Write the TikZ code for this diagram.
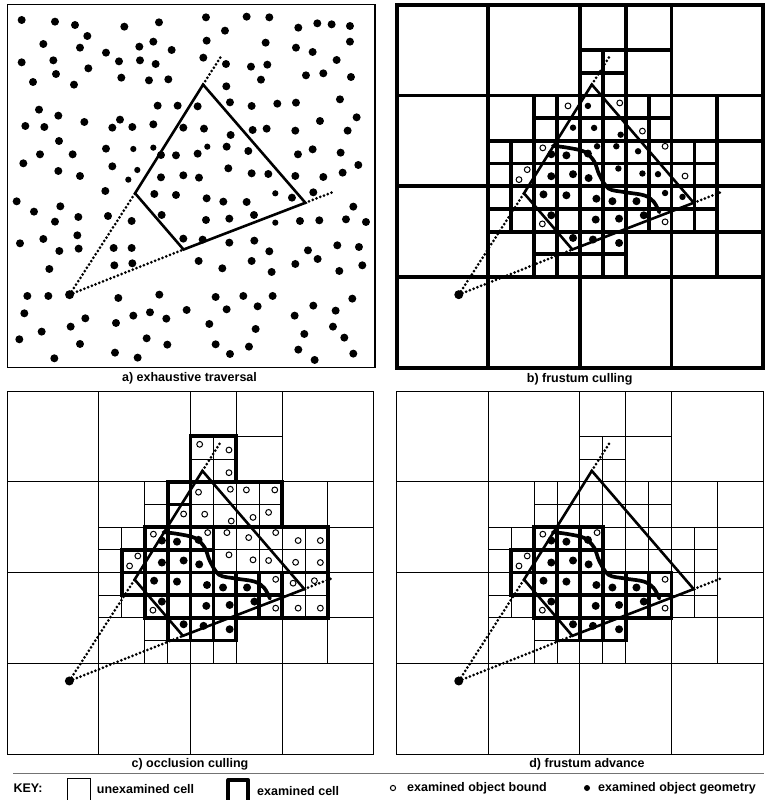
\documentclass[tikz,border=0pt]{standalone}
\usepackage{fontspec}
\setmainfont{Liberation Sans}
\usetikzlibrary{calc}

% quadtree leaves x/y/size (cell units, y down); the 8..11 x 4..9 block is added in \drawleaves
\newcommand{\quadleaves}{0/0/4,4/0/4,12/0/4,0/4/4,0/8/4,0/12/4,4/12/4,8/12/4,12/12/4,%
  8/0/2,10/0/2,10/2/2,4/4/2,12/4/2,14/4/2,14/6/2,4/10/2,10/10/2,14/8/2,12/10/2,14/10/2,%
  8/2/1,9/2/1,8/3/1,9/3/1,6/4/1,7/4/1,6/5/1,7/5/1,4/6/1,5/6/1,4/7/1,5/7/1,%
  6/6/1,7/6/1,6/7/1,7/7/1,12/6/1,13/6/1,12/7/1,13/7/1,4/8/1,5/8/1,4/9/1,5/9/1,%
  6/8/1,7/8/1,6/9/1,7/9/1,12/8/1,13/8/1,12/9/1,13/9/1,6/10/1,7/10/1,6/11/1,7/11/1,%
  8/10/1,9/10/1,8/11/1,9/11/1}
\newcommand{\drawleaves}[1]{%
  \foreach \cx/\cy/\cs in \quadleaves {\draw[#1] (\cx,\cy) rectangle ++(\cs,\cs);}
  \foreach \cx in {8,...,11} {\foreach \cy in {4,...,9} {\draw[#1] (\cx,\cy) rectangle ++(1,1);}}}

% cells whose geometry was looked at
\newcommand{\geomcells}{6/6,7/6,8/6,5/7,6/7,7/7,8/7,5/8,6/8,7/8,8/8,9/8,10/8,11/8,%
  6/9,7/9,8/9,9/9,10/9,11/9,7/10,8/10,9/10}
\newcommand{\geomdots}{6.75/6.59,7.41/6.64,8.35/6.56,6.75/7.56,7.70/7.47,8.38/7.64,%
  6.41/8.36,7.41/8.40,8.72/8.55,9.42/8.66,10.47/8.66,6.75/9.28,8.69/9.47,9.71/9.43,%
  10.79/9.28,7.70/10.28,8.57/10.35,9.71/10.50}

\newcommand{\drawfrustum}{%
  \coordinate (eye) at (2.71,12.78);
  \coordinate (nl) at (5.56,8.31);
  \coordinate (tp) at (8.52,3.52);
  \coordinate (rt) at (12.97,8.73);
  \coordinate (bt) at (7.67,10.79);
  \draw[rayline] (eye) -- (nl) (tp) -- ($(eye)!1.13!(tp)$)
                 (eye) -- (bt) (rt) -- ($(eye)!1.125!(rt)$);
  \draw[frustline] (nl) -- (tp) -- (rt) -- (bt) -- cycle;
  \fill (eye) circle (4.5pt);}
\newcommand{\drawsurface}{%
  \draw[surfline] plot[smooth,tension=0.55] coordinates {(6.82,6.22) (7.45,6.3)
    (8.2,6.48) (8.62,6.9) (8.85,7.5) (9.25,8.1) (9.95,8.26) (10.8,8.4) (11.22,8.68)
    (11.47,9.15)};}

\begin{document}
\begin{tikzpicture}[x=1pt,y=-1pt,font=\fontsize{12.5}{14}\selectfont\bfseries,
    panel/.style={x=22.9pt,y=-22.69pt},
    cellline/.style={draw=black,line width=1pt},
    examline/.style={draw=black,line width=3.8pt},
    frustline/.style={line width=2.6pt,line join=miter},
    rayline/.style={line width=3pt,line cap=round,dash pattern=on 0pt off 4pt},
    surfline/.style={line width=3.7pt,line cap=round},
    bound/.style={draw=black,line width=1pt,fill=white},
    caption/.style={inner sep=0pt}]
  \useasboundingbox (0,0) rectangle (764,800);

  % a) exhaustive traversal
  \begin{scope}[shift={(7.3,4.7)},panel,x=22.98pt]
    \draw[line width=1.4pt] (0,0) rectangle (16,16);
    \drawfrustum
  \end{scope}
  \begin{scope}[x=0.3333pt,y=-0.3333pt]
    \foreach \px/\py in {65/60,165/65,225/75,373/80,477/67,618/52,740/50,808/52,675/92,
        895/83,952/70,995/73,1050/78,262/108,130/132,240/143,418/140,460/125,515/150,
        620/122,797/128,888/143,938/156,1050/125,65/187,160/181,318/158,357/184,420/181,
        467/192,610/173,678/192,753/200,802/194,1010/180,265/205,168/222,99/246,222/254,
        364/233,447/241,505/238,679/259,783/239,918/226,970/220,1053/231,117/329,473/317,
        533/317,593/319,690/307,755/318,832/311,888/308,1020/298,175/347,76/378,133/381,
        253/366,360/359,337/383,397/381,460/373,550/383,612/386,692/405,758/390,800/386,
        886/392,960/363,1070/352,1043/392,177/423,120/463,218/463,318/446,483/465,528/466,
        593/461,680/440,745/453,894/463,938/448,1022/458,70/490,175/513,240/528,337/499,
        483/532,550/526,597/533,685/505,755/520,805/522,886/528,970/531,1028/518,1075/495,
        316/573,463/582,528/585,620/595,670/605,740/606,876/593,940/577,50/604,1060/620,
        102/635,181/619,165/665,235/651,324/648,395/663,485/645,618/660,688/656,762/645,
        900/663,958/661,1038/658,1098/666,60/730,130/717,232/706,178/753,236/746,341/744,
        395/744,550/716,608/719,688/728,763/722,808/754,924/751,953/777,1012/736,1077/741,
        148/807,343/796,397/790,596/783,667/805,755/783,815/816,886/792,1018/813,1087/796,
        82/888,145/888,355/894,478/884,647/891,730/888,818/888,1057/896,73/940,256/955,
        212/980,348/969,400/947,450/937,499/956,560/930,680/928,773/919,628/972,884/947,
        940/917,1007/932,125/995,58/1018,240/1032,440/1015,502/1034,767/987,913/1002,
        999/980,1033/1013,647/1033,163/1075,345/1058,413/1073,690/1062,747/1040,895/1049,
        944/1080,1060/1061}
      \fill (\px,\py) circle (4pt);
    \foreach \px/\py in {622/440,400/447,412/510,385/539,826/580,826/668,460/443}
      \fill (\px,\py) circle (3.1pt);
  \end{scope}
  \node[caption] (lblA) at (189.5,378.5) {a) exhaustive traversal};

  % b) frustum culling
  \begin{scope}[shift={(396.7,4.7)},panel]
    \drawleaves{examline}
    \drawfrustum
    \drawsurface
    \foreach \ox/\oy in {7.48/4.46,9.74/4.33,10.73/5.57,6.38/6.31,11.72/6.24,5.70/7.27,
        5.34/7.71,12.59/7.55,6.36/9.66,11.72/9.57}
      \draw[bound] (\ox,\oy) circle (2.9pt);
    \foreach \ox/\oy in {8.35/4.46,7.70/5.42,8.62/5.43,9.78/5.73,8.75/6.24,9.59/6.24,
        10.54/6.46,9.68/7.22,10.73/7.44,11.41/7.47,11.72/8.30,12.48/8.47}
      \fill (\ox,\oy) circle (3.2pt);
    \foreach \ox/\oy in \geomdots \fill (\ox,\oy) circle (4pt);
  \end{scope}
  \node[caption] (lblB) at (579.7,379) {b) frustum culling};

  % c) occlusion culling
  \begin{scope}[shift={(7.3,391)},panel]
    \drawleaves{cellline}
    \foreach \cx/\cy in \geomcells \draw[examline] (\cx,\cy) rectangle ++(1,1);
    \foreach \cx/\cy in {7/4,7/5} \draw[examline] (\cx,\cy) rectangle ++(1,1);
    \foreach \bx/\by/\ex/\ey in {8/2/10/4,8/4/12/6,9/6/14/8,12/8/14/10}
      \draw[examline] (\bx,\by) rectangle (\ex,\ey);
    \drawfrustum
    \drawsurface
    \foreach \ox/\oy in {8.40/2.35,9.68/2.60,9.68/3.60,8.35/4.46,9.74/4.33,10.44/4.36,
        11.68/4.36,7.70/5.42,8.62/5.43,9.78/5.73,10.73/5.57,11.41/5.35,6.38/6.31,8.75/6.24,
        9.59/6.24,10.54/6.46,11.72/6.24,12.70/6.59,13.67/6.59,5.70/7.27,5.34/7.71,9.68/7.22,
        10.73/7.44,11.41/7.47,12.59/7.55,13.67/7.56,11.72/8.30,12.48/8.47,13.41/8.36,
        6.36/9.66,11.72/9.57,12.70/9.57,13.67/9.57}
      \draw[bound] (\ox,\oy) circle (2.9pt);
    \foreach \ox/\oy in \geomdots \fill (\ox,\oy) circle (4pt);
  \end{scope}
  \node[caption] (lblC) at (190,764) {c) occlusion culling};

  % d) frustum advance
  \begin{scope}[shift={(396.7,391)},panel]
    \drawleaves{cellline}
    \foreach \cx/\cy in \geomcells \draw[examline] (\cx,\cy) rectangle ++(1,1);
    \drawfrustum
    \drawsurface
    \foreach \ox/\oy in {6.38/6.31,8.75/6.24,5.70/7.27,5.34/7.71,11.72/8.30,6.36/9.66,
        11.72/9.57}
      \draw[bound] (\ox,\oy) circle (2.9pt);
    \foreach \ox/\oy in \geomdots \fill (\ox,\oy) circle (4pt);
  \end{scope}
  \node[caption] (lblD) at (587,764) {d) frustum advance};

  % key
  \draw[line width=1.6pt,black!55] (13,773.3) -- (764,773.3);
  \node[caption,anchor=west] (keyTitle) at (13.3,788) {KEY:};
  \draw[line width=1pt] (67.7,801) -- (67.7,778) -- (90,778) -- (90,801);
  \node[caption,anchor=west] (keyUnexam) at (96.7,789) {unexamined cell};
  \draw[examline,line join=round] (228.3,801) -- (228.3,780) -- (248.3,780) -- (248.3,801);
  \node[caption,anchor=west] (keyExam) at (257,791.5) {examined cell};
  \draw[bound] (393,788) circle (2.6pt);
  \node[caption,anchor=west] (keyBound) at (407,788) {examined object bound};
  \fill (587,788) circle (3pt);
  \node[caption,anchor=west] (keyGeom) at (598,788) {examined object geometry};
\end{tikzpicture}
\end{document}
